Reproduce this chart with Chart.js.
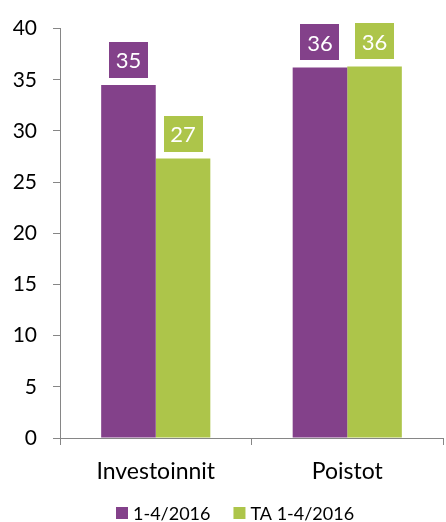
<!DOCTYPE html>
<html><head><meta charset="utf-8">
<script src="https://cdn.jsdelivr.net/npm/chart.js@4.4.1/dist/chart.umd.min.js"></script>
<style>html,body{margin:0;padding:0;background:#fff}#wrap{width:446px;height:522px}</style>
</head><body><div id="wrap"><canvas id="c" width="446" height="522"></canvas></div>
<script>
const categories = ['Investoinnit', 'Poistot'];
const seriesNames = ['1-4/2016', 'TA 1-4/2016'];
const actual2016 = [34.5, 36.2];
const budget2016 = [27.3, 36.3];
const yTicks = [0, 5, 10, 15, 20, 25, 30, 35, 40];
const colors = ['#83418A', '#ADC54A'];
const FONT = 'Lato, "Open Sans", sans-serif';

const boxLabels = {
  id: 'boxLabels',
  afterDatasetsDraw(chart) {
    const ctx = chart.ctx;
    chart.data.datasets.forEach((ds, di) => {
      const meta = chart.getDatasetMeta(di);
      meta.data.forEach((bar, i) => {
        const w = 39, h = 36;
        const cx = bar.x, bottom = bar.y - 7;
        ctx.save();
        ctx.fillStyle = ds.backgroundColor;
        ctx.fillRect(Math.round(cx - w / 2), Math.round(bottom - h), w, h);
        ctx.fillStyle = '#fff';
        ctx.font = '22px ' + FONT;
        ctx.textAlign = 'center';
        ctx.textBaseline = 'middle';
        ctx.fillText(String(Math.round(ds.data[i])), cx, bottom - h / 2 + 1);
        ctx.restore();
      });
    });
  }
};

const bottomLegend = {
  id: 'bottomLegend',
  afterDraw(chart) {
    const ctx = chart.ctx;
    ctx.save();
    ctx.font = '18px ' + FONT;
    ctx.textBaseline = 'middle';
    const box = 12, gapBT = 5, gapItem = 23;
    const items = chart.data.datasets.map(ds => ({ label: ds.label, color: ds.backgroundColor, w: ctx.measureText(ds.label).width }));
    const total = items.reduce((s, it) => s + box + gapBT + it.w, 0) + gapItem * (items.length - 1);
    let x = Math.round(chart.width / 2 + 12 - total / 2);
    const cy = 513;
    items.forEach(it => {
      ctx.fillStyle = it.color;
      ctx.fillRect(x, cy - 6, box, box);
      ctx.fillStyle = '#000';
      ctx.textAlign = 'left';
      ctx.fillText(it.label, x + box + gapBT, cy + 1);
      x += box + gapBT + it.w + gapItem;
    });
    ctx.restore();
  }
};

new Chart(document.getElementById('c'), {
  type: 'bar',
  data: {
    labels: categories,
    datasets: [
      { label: seriesNames[0], data: actual2016, backgroundColor: colors[0], borderWidth: 0 },
      { label: seriesNames[1], data: budget2016, backgroundColor: colors[1], borderWidth: 0 }
    ]
  },
  options: {
    responsive: false,
    animation: false,
    devicePixelRatio: 1,
    layout: { padding: { top: 17, right: 3, left: 0, bottom: 0 } },
    datasets: { bar: { categoryPercentage: 0.57, barPercentage: 1.0 } },
    scales: {
      x: {
        grid: { drawOnChartArea: false, drawTicks: true, tickLength: 7, color: '#868686', offset: true },
        border: { display: true, color: '#868686', width: 1 },
        ticks: { color: '#000', font: { family: FONT, size: 23 }, padding: 13 },
        afterFit(s) { s.height = 84; }
      },
      y: {
        min: 0, max: 40,
        afterBuildTicks(s) { s.ticks = yTicks.map(v => ({ value: v })); },
        grid: { drawOnChartArea: false, drawTicks: true, tickLength: 7, color: '#868686' },
        border: { display: true, color: '#868686', width: 1 },
        ticks: { color: '#000', font: { family: FONT, size: 21 }, padding: 16 },
        afterFit(s) { s.width = 60; }
      }
    },
    plugins: {
      legend: { display: false },
      tooltip: { enabled: false }
    }
  },
  plugins: [boxLabels, bottomLegend]
});
</script></body></html>
